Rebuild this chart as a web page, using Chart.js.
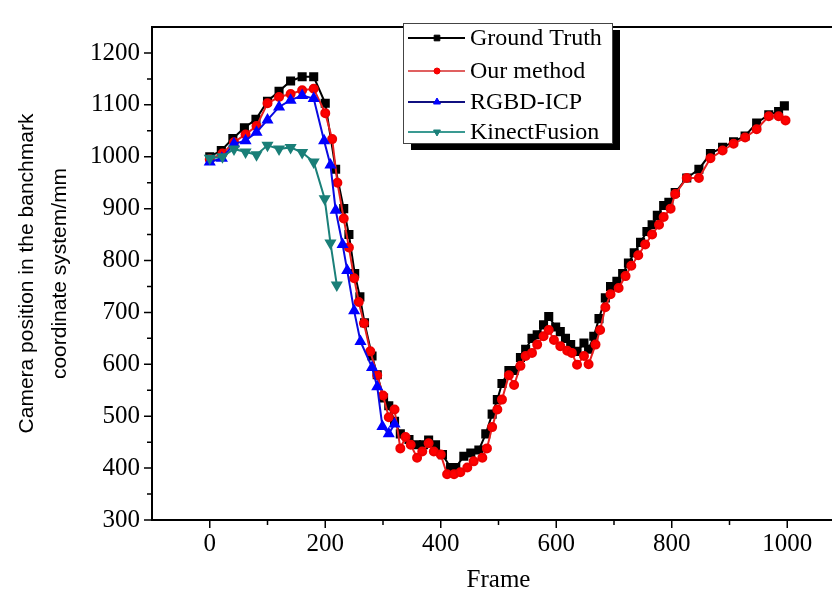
<!DOCTYPE html>
<html>
<head>
<meta charset="utf-8">
<script src="https://cdn.jsdelivr.net/npm/chart.js@4.4.0/dist/chart.umd.min.js"></script>
<style>
html, body { margin: 0; padding: 0; background: #fff; overflow: hidden; }
#wrap { position: relative; width: 860px; height: 596px; }
</style>
</head>
<body>
<div id="wrap"><canvas id="chart"></canvas></div>
<script>
// values
const xTickValues = [0, 200, 400, 600, 800, 1000];
const yTickValues = [300, 400, 500, 600, 700, 800, 900, 1000, 1100, 1200];

const gtFrames = [0, 20, 40, 60, 80, 100, 120, 140, 160, 180, 200, 218, 232, 241, 251, 260, 268, 281, 290, 301, 310, 320, 330, 345, 358, 370, 379, 391, 403, 417, 426, 440, 452, 466, 478, 489, 498, 506, 518, 527, 538, 547, 558, 567, 578, 587, 599, 607, 616, 625, 636, 648, 656, 665, 674, 685, 694, 705, 715, 725, 735, 746, 757, 766, 775, 786, 795, 806, 826, 847, 867, 888, 907, 927, 947, 968, 985, 995];
const gtValues = [1000, 1012, 1035, 1056, 1072, 1107, 1126, 1146, 1154, 1154, 1103, 976, 900, 850, 775, 730, 680, 616, 580, 535, 520, 490, 466, 455, 445, 445, 454, 445, 426, 401, 401, 423, 429, 435, 466, 504, 532, 563, 588, 588, 613, 629, 650, 657, 676, 692, 672, 663, 650, 638, 625, 641, 629, 654, 688, 728, 750, 760, 775, 795, 815, 835, 856, 869, 887, 906, 912, 931, 959, 976, 1006, 1018, 1029, 1040, 1065, 1081, 1087, 1098];

const ourFrames = [0, 22, 42, 62, 81, 100, 120, 140, 160, 180, 200, 212, 221, 232, 241, 250, 258, 267, 278, 290, 300, 310, 320, 330, 339, 348, 359, 368, 379, 388, 400, 411, 423, 434, 446, 457, 472, 480, 489, 498, 506, 518, 527, 538, 547, 558, 567, 578, 587, 596, 607, 619, 627, 636, 648, 656, 668, 676, 685, 694, 708, 720, 730, 742, 754, 766, 778, 786, 798, 806, 826, 847, 867, 888, 907, 927, 947, 968, 985, 997];
const ourValues = [995, 1006, 1028, 1043, 1059, 1103, 1115, 1121, 1128, 1131, 1084, 1034, 950, 881, 825, 766, 720, 679, 625, 579, 540, 498, 513, 438, 460, 445, 420, 432, 448, 432, 426, 388, 388, 392, 401, 413, 420, 438, 479, 513, 532, 579, 560, 597, 616, 622, 638, 654, 666, 647, 635, 626, 622, 599, 616, 600, 638, 666, 710, 735, 747, 770, 790, 810, 831, 850, 869, 884, 900, 928, 959, 959, 997, 1012, 1025, 1037, 1053, 1078, 1078, 1070];

const icpFrames = [0, 21, 42, 62, 81, 100, 120, 140, 160, 180, 198, 209, 218, 230, 238, 250, 261, 281, 290, 299, 310, 320];
const icpValues = [990, 997, 1025, 1031, 1047, 1071, 1096, 1109, 1118, 1112, 1031, 984, 897, 831, 781, 703, 644, 594, 557, 480, 466, 485];

const kfFrames = [0, 22, 42, 62, 81, 100, 120, 140, 160, 180, 199, 209, 220];
const kfValues = [997, 1000, 1015, 1009, 1004, 1022, 1015, 1018, 1008, 990, 919, 834, 753];

const pts = (xs, ys) => xs.map((x, i) => ({ x: x, y: ys[i] }));

const serif = '"Liberation Serif", "Times New Roman", serif';
const sans = '"Liberation Sans", Arial, sans-serif';

// top frame line and outward tick marks
const axisMarks = {
    id: 'axisMarks',
    afterDraw(chart) {
        const { ctx, chartArea: a, scales: { x, y } } = chart;
        ctx.save();
        ctx.strokeStyle = '#000';
        ctx.lineWidth = 2;
        ctx.beginPath();
        ctx.moveTo(a.left - 1, a.top);
        ctx.lineTo(a.right + 20, a.top);
        ctx.stroke();
        ctx.lineWidth = 1.5;
        ctx.beginPath();
        for (let v = 0; v <= 1100; v += 100) {
            const px = x.getPixelForValue(v);
            const len = xTickValues.includes(v) ? 8 : 5;
            ctx.moveTo(px, a.bottom);
            ctx.lineTo(px, a.bottom + len);
        }
        for (let v = 300; v <= 1200; v += 50) {
            const py = y.getPixelForValue(v);
            const len = yTickValues.includes(v) ? 8 : 5;
            ctx.moveTo(a.left, py);
            ctx.lineTo(a.left - len, py);
        }
        ctx.stroke();
        ctx.restore();
    }
};

// boxed legend with drop shadow, as in the figure
const boxLegend = {
    id: 'boxLegend',
    afterDraw(chart) {
        const ctx = chart.ctx;
        const bx = 403, by = 23, bw = 209, bh = 120;
        ctx.save();
        ctx.fillStyle = '#000';
        ctx.fillRect(bx + 8, by + 7, bw, bh);
        ctx.fillStyle = '#fff';
        ctx.fillRect(bx, by, bw, bh);
        ctx.strokeStyle = '#444';
        ctx.lineWidth = 1;
        ctx.strokeRect(bx + 0.5, by + 0.5, bw, bh);
        const rows = [38, 71, 102, 132];
        ctx.font = '24px ' + serif;
        ctx.textBaseline = 'middle';
        chart.data.datasets.forEach((ds, i) => {
            const ry = rows[i];
            ctx.strokeStyle = ds.legendLine || ds.borderColor;
            ctx.lineWidth = 2;
            ctx.beginPath();
            ctx.moveTo(408, ry);
            ctx.lineTo(465, ry);
            ctx.stroke();
            ctx.fillStyle = ds.pointBackgroundColor;
            ctx.strokeStyle = ds.pointBorderColor;
            ctx.lineWidth = 1;
            Chart.helpers.drawPoint(ctx, {
                pointStyle: ds.pointStyle,
                radius: ds.pointRadius - 1,
                rotation: ds.pointRotation || 0,
                borderWidth: 1
            }, 437, ry);
            ctx.fillStyle = '#000';
            ctx.fillText(ds.label, 470, ry + 1);
        });
        ctx.restore();
    }
};

new Chart(document.getElementById('chart'), {
    type: 'scatter',
    data: {
        datasets: [
            {
                label: 'Ground Truth',
                data: pts(gtFrames, gtValues),
                showLine: true,
                borderColor: '#000',
                borderWidth: 2,
                pointStyle: 'rect',
                pointRadius: 5,
                pointBackgroundColor: '#000',
                pointBorderColor: '#000',
                order: 4
            },
            {
                label: 'Our method',
                data: pts(ourFrames, ourValues),
                showLine: true,
                borderColor: '#e82020',
                legendLine: '#e06060',
                borderWidth: 2,
                pointStyle: 'circle',
                pointRadius: 4,
                pointBackgroundColor: '#ff0000',
                pointBorderColor: '#ee0000',
                order: 3
            },
            {
                label: 'RGBD-ICP',
                data: pts(icpFrames, icpValues),
                showLine: true,
                borderColor: '#0a0ae0',
                legendLine: '#101080',
                borderWidth: 2,
                pointStyle: 'triangle',
                pointRadius: 5,
                pointBackgroundColor: '#0000ff',
                pointBorderColor: '#0000ff',
                order: 2
            },
            {
                label: 'KinectFusion',
                data: pts(kfFrames, kfValues),
                showLine: true,
                borderColor: '#1a8079',
                legendLine: '#3a9a92',
                borderWidth: 2,
                pointStyle: 'triangle',
                pointRotation: 180,
                pointRadius: 5,
                pointBackgroundColor: '#1a7f78',
                pointBorderColor: '#1a7f78',
                order: 1
            }
        ]
    },
    options: {
        responsive: true,
        maintainAspectRatio: false,
        animation: false,
        devicePixelRatio: 1,
        layout: { padding: { top: 11, right: 15, left: 0, bottom: 0 } },
        elements: { line: { tension: 0 } },
        plugins: {
            legend: { display: false },
            tooltip: { enabled: false }
        },
        scales: {
            x: {
                type: 'linear',
                min: -100,
                max: 1100,
                afterBuildTicks: s => { s.ticks = xTickValues.map(v => ({ value: v })); },
                afterFit: s => { s.height = 76; },
                grid: { display: false, drawTicks: false },
                border: { display: true, color: '#000', width: 2 },
                ticks: {
                    color: '#000', padding: 9, maxRotation: 0,
                    font: { family: serif, size: 25 },
                    callback: v => String(v)
                },
                title: {
                    display: true,
                    text: 'Frame',
                    color: '#000',
                    font: { family: serif, size: 25 },
                    padding: { top: 0, bottom: 1 }
                }
            },
            y: {
                type: 'linear',
                min: 300,
                max: 1250,
                afterBuildTicks: s => { s.ticks = yTickValues.map(v => ({ value: v })); },
                afterFit: s => { s.width = 152; },
                grid: { display: false, drawTicks: false },
                border: { display: true, color: '#000', width: 2 },
                ticks: {
                    color: '#000', padding: 12,
                    font: { family: serif, size: 25 },
                    callback: v => String(v)
                },
                title: {
                    display: true,
                    text: ['Camera position in the banchmark', 'coordinate system/mm'],
                    color: '#000',
                    font: { family: sans, size: 21, lineHeight: 1.6 },
                    padding: { top: 10, bottom: 0 }
                }
            }
        }
    },
    plugins: [axisMarks, boxLegend]
});
</script>
</body>
</html>
